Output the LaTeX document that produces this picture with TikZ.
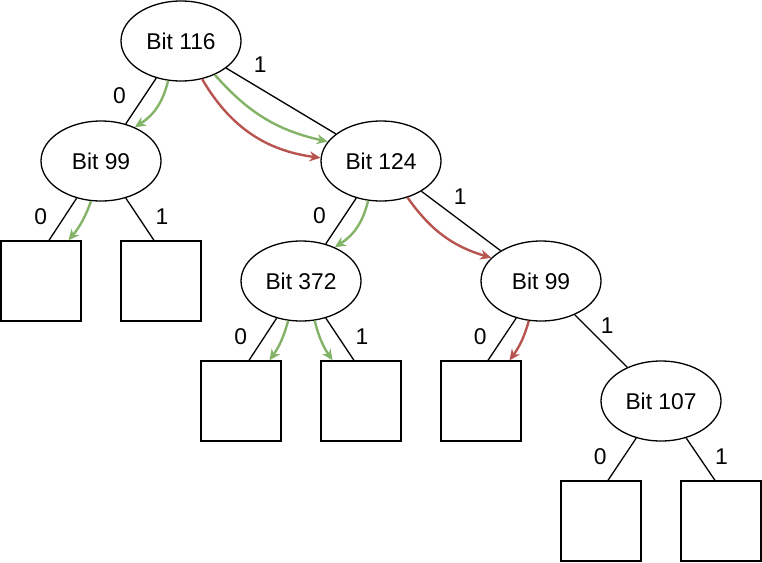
\documentclass[tikz,border=0pt]{standalone}
\usepackage{fontspec}
\setmainfont{Liberation Sans}
\usetikzlibrary{arrows.meta,positioning,shapes.geometric}
\definecolor{walkgreen}{HTML}{82B366}
\definecolor{walkred}{HTML}{B85450}
\newcommand{\bitfont}{\fontsize{22.8}{27}\selectfont}
\tikzset{
  bit/.style={draw, ellipse, line width=1.3pt, minimum width=120pt, minimum height=80pt, inner sep=0pt, font=\bitfont},
  leaf/.style={draw, rectangle, line width=1.3pt, minimum size=80pt, inner sep=0pt},
  branch/.style={line width=1.3pt},
  walk/.style={-{Stealth[length=11pt,width=10pt]}, line width=2.4pt, draw=walkgreen},
  miss/.style={-{Stealth[length=11pt,width=10pt]}, line width=2.4pt, draw=walkred},
  lbl/.style={font=\bitfont, inner sep=0pt}
}

\begin{document}
\begin{tikzpicture}[x=1pt, y=-1pt, on grid]
  \useasboundingbox (0,0) rectangle (762,562);
  \node[bit] (b116) at (181,41) {Bit 116};
  \node[bit, below left=120pt and 80pt of b116] (b99) {Bit 99};
  \node[bit, below right=120pt and 200pt of b116] (b124) {Bit 124};
  \node[leaf, below left=120pt and 60pt of b99] (l1) {};
  \node[leaf, below right=120pt and 60pt of b99] (l2) {};
  \node[bit, below left=120pt and 80pt of b124] (b372) {Bit 372};
  \node[bit, below right=120pt and 160pt of b124] (b99r) {Bit 99};
  \node[leaf, below left=120pt and 60pt of b372] (l3) {};
  \node[leaf, below right=120pt and 60pt of b372] (l4) {};
  \node[leaf, below left=120pt and 60pt of b99r] (l5) {};
  \node[bit, below right=120pt and 120pt of b99r] (b107) {Bit 107};
  \node[leaf, below left=120pt and 60pt of b107] (l6) {};
  \node[leaf, below right=120pt and 60pt of b107] (l7) {};
  % branches
  \draw[branch] (b116) -- node[lbl, pos=.39, left=18pt] (t1) {0} (b99);
  \draw[branch] (b116) -- node[lbl, pos=.31, above=15pt] (t2) {1} (b124);
  \draw[branch] (b99) -- node[lbl, pos=.43, left=17pt] (t3) {0} ([xshift=8pt]l1.north);
  \draw[branch] (b99) -- node[lbl, pos=.43, right=17pt] (t4) {1} ([xshift=-7pt]l2.north);
  \draw[branch] (b124) -- node[lbl, pos=.39, left=18pt] (t5) {0} (b372);
  \draw[branch] (b124) -- node[lbl, pos=.49, above=15pt] (t6) {1} (b99r);
  \draw[branch] (b372) -- node[lbl, pos=.43, left=17pt] (t7) {0} ([xshift=8pt]l3.north);
  \draw[branch] (b372) -- node[lbl, pos=.43, right=17pt] (t8) {1} ([xshift=-7pt]l4.north);
  \draw[branch] (b99r) -- node[lbl, pos=.43, left=17pt] (t9) {0} ([xshift=7pt]l5.north);
  \draw[branch] (b99r) -- node[lbl, pos=.62, above=13pt] (t10) {1} (b107);
  \draw[branch] (b107) -- node[lbl, pos=.43, left=17pt] (t11) {0} ([xshift=7pt]l6.north);
  \draw[branch] (b107) -- node[lbl, pos=.43, right=16pt] (t12) {1} ([xshift=-6pt]l7.north);
  % lookup paths
  \draw[walk] (b116.252) to[bend left=22] (b99.45);
  \draw[walk] (b116.315) to[bend right=18] (b124.160);
  \draw[miss] (b116.299) to[bend right=26] (b124.177);
  \draw[walk] (b99.256) to[bend left=10] (l1.56);
  \draw[walk] (b124.252) to[bend left=22] (b372.45);
  \draw[miss] (b124.306) to[bend right=19] (b99r.155);
  \draw[walk] (b372.252) to[bend left=10] (l3.55);
  \draw[walk] (b372.289) to[bend right=10] (l4.125);
  \draw[miss] (b99r.253) to[bend left=10] (l5.55);
\end{tikzpicture}
\end{document}
